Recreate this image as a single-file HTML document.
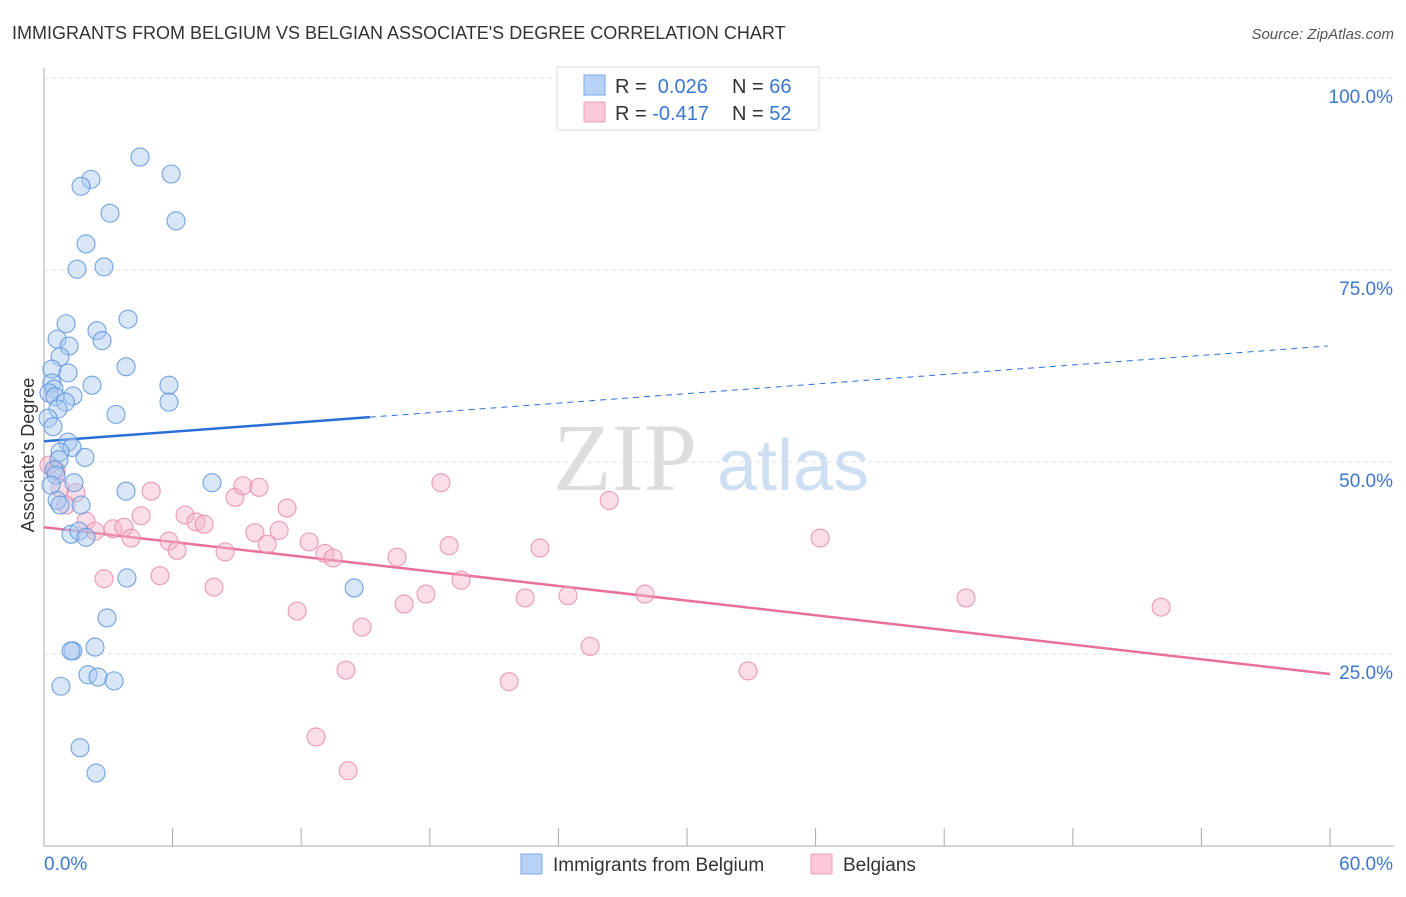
<!DOCTYPE html>
<html><head><meta charset="utf-8"><style>
body{margin:0;background:#fff;font-family:"Liberation Sans",sans-serif;}
</style></head><body>
<svg id="chart" width="1406" height="892" xmlns="http://www.w3.org/2000/svg" font-family="Liberation Sans, sans-serif">
<text x="12" y="39" font-size="18" fill="#333">IMMIGRANTS FROM BELGIUM VS BELGIAN ASSOCIATE'S DEGREE CORRELATION CHART</text>
<text x="1394" y="39" font-size="15" fill="#555" text-anchor="end" font-style="italic">Source: ZipAtlas.com</text>
<text x="553" y="490" font-size="96" fill="#ddd" font-family="Liberation Serif, serif">ZIP</text>
<text x="717" y="490" font-size="72" fill="#cfdff3">atlas</text>
<text transform="translate(34,455) rotate(-90)" font-size="18" fill="#333" text-anchor="middle">Associate's Degree</text>
<g id="grid"></g><g id="lines"></g><g id="pts"></g>
<g>
<rect x="557" y="67" width="262" height="63" fill="#fff" stroke="#ddd"/>
<rect x="584" y="75" width="21" height="20" fill="#b8d2f5" stroke="#7aa8e8"/>
<rect x="584" y="102" width="21" height="20" fill="#fac8d6" stroke="#ee9fb6"/>
<text x="615" y="93" font-size="20" fill="#333">R = <tspan fill="#3a78d0">&#160;0.026</tspan><tspan x="732">N = </tspan><tspan fill="#3a78d0">66</tspan></text>
<text x="615" y="120" font-size="20" fill="#333">R = <tspan fill="#3a78d0">-0.417</tspan><tspan x="732">N = </tspan><tspan fill="#3a78d0">52</tspan></text>
</g>
<g>
<rect x="521" y="854" width="21" height="20" fill="#b8d2f5" stroke="#7aa8e8"/>
<text x="553" y="871" font-size="19" fill="#333">Immigrants from Belgium</text>
<rect x="811" y="854" width="21" height="20" fill="#fac8d6" stroke="#ee9fb6"/>
<text x="843" y="871" font-size="19" fill="#333">Belgians</text>
</g>
</svg>
<script>
const blueX=[4.48,5.93,2.19,1.73,3.08,6.16,1.96,1.54,2.80,3.92,1.03,2.47,0.61,2.71,1.17,0.75,3.83,0.37,1.12,0.37,2.24,5.83,0.47,1.35,0.23,0.51,1.00,5.83,0.65,3.36,0.19,0.42,1.12,1.31,0.75,1.91,0.70,0.47,0.56,7.84,1.40,0.33,3.83,0.61,0.75,1.73,1.26,1.63,1.96,3.87,14.47,2.94,2.38,1.35,1.26,2.05,2.52,3.27,0.79,1.68,2.43];
const blueY=[89.7,87.5,86.8,85.9,82.4,81.4,78.4,75.1,75.4,68.6,68.0,67.1,66.0,65.8,65.1,63.7,62.4,62.1,61.6,60.3,60.0,60.0,59.5,58.6,59.0,58.5,57.8,57.8,56.9,56.2,55.7,54.6,52.6,51.9,51.3,50.6,50.3,49.0,48.3,47.3,47.3,47.0,46.2,45.0,44.4,44.4,40.6,41.0,40.2,34.9,33.6,29.7,25.9,25.4,25.4,22.3,22.0,21.5,20.8,12.8,9.5];
const pinkX=[0.23,0.56,0.75,1.49,1.03,1.96,2.38,3.22,3.73,4.06,4.53,5.0,2.80,5.41,5.83,6.21,6.58,7.09,7.47,7.93,8.45,8.91,9.28,10.03,9.84,10.41,10.97,11.34,11.81,12.37,13.11,13.49,14.09,12.69,14.19,14.84,16.47,16.80,17.82,18.52,18.90,19.46,21.70,22.45,23.14,24.45,25.48,26.37,28.04,32.85,36.21,43.02,52.12];
const pinkY=[49.6,48.9,46.6,46.0,44.4,42.3,41.0,41.3,41.5,40.1,43.0,46.2,34.8,35.2,39.7,38.5,43.1,42.2,41.9,33.7,38.3,45.4,46.9,46.7,40.8,39.3,41.1,44.0,30.6,39.6,38.1,37.5,22.9,14.2,9.8,28.5,37.6,31.5,32.8,47.3,39.1,34.6,21.4,32.3,38.8,32.6,26.0,45.0,32.8,22.8,40.1,32.3,31.1];
const blueTrend=[52.7,65.1];
const pinkTrend=[41.5,22.4];
const yTicks=[25,50,75,100];
const yTickLabels=["25.0%","50.0%","75.0%","100.0%"];
const xTicks=[0,6,12,18,24,30,36,42,48,54,60];
const NS='http://www.w3.org/2000/svg';
const sx=v=>44+v/60*1286, sy=v=>846-v/100*768;
function mk(tag,attrs,parent){const e=document.createElementNS(NS,tag);for(const k in attrs)e.setAttribute(k,attrs[k]);document.getElementById(parent).appendChild(e);return e;}
const g='grid';
let ax=mk('line',{x1:44,y1:68,x2:44,y2:846,stroke:'#aaa'},g);


let bx=mk('line',{x1:44,y1:846,x2:1394,y2:846,stroke:'#aaa'},g);


yTicks.forEach((t,i)=>{
 const l=mk('line',{x1:44,y1:sy(t),x2:1394,y2:sy(t),stroke:'#ddd','stroke-dasharray':'4,4'},g);
 
 
 const tx=mk('text',{x:1393,y:sy(t)+25,'font-size':19,fill:'#3a78d0','text-anchor':'end'},g);
 tx.textContent=yTickLabels[i];
 
 
});
xTicks.forEach(t=>{
 const l=mk('line',{x1:sx(t),y1:828,x2:sx(t),y2:846,stroke:'#aaa'},g);
 
 
});
const x0=mk('text',{x:44,y:870,'font-size':19,fill:'#3a78d0'},g);x0.textContent='0.0%';


const x1=mk('text',{x:1393,y:870,'font-size':19,fill:'#3a78d0','text-anchor':'end'},g);x1.textContent='60.0%';


function pts(X,Y,fill,stroke,name){X.forEach((x,i)=>{const c=mk('circle',{cx:sx(x),cy:sy(Y[i]),r:9,fill:fill,'fill-opacity':0.45,stroke:stroke,'stroke-width':1.1,'stroke-opacity':0.85},'pts');

});}
pts(pinkX,pinkY,'#f5b3c7','#e88aa8','belgians-point');
pts(blueX,blueY,'#a9c8f0','#5b94de','immigrants-point');
const bxm=15.2, bym=blueTrend[0]+(blueTrend[1]-blueTrend[0])*bxm/60;
let t1=mk('line',{x1:sx(0),y1:sy(blueTrend[0]),x2:sx(bxm),y2:sy(bym),stroke:'#2a6ed6','stroke-width':2.5},'lines');


let t2=mk('line',{x1:sx(bxm),y1:sy(bym),x2:sx(59.9),y2:sy(blueTrend[1]),stroke:'#2a6ed6','stroke-width':1,'stroke-dasharray':'6,5'},'lines');


let t3=mk('line',{x1:sx(0),y1:sy(pinkTrend[0]),x2:sx(60),y2:sy(pinkTrend[1]),stroke:'#e8709a','stroke-width':2.5},'lines');


</script>
</body></html>
